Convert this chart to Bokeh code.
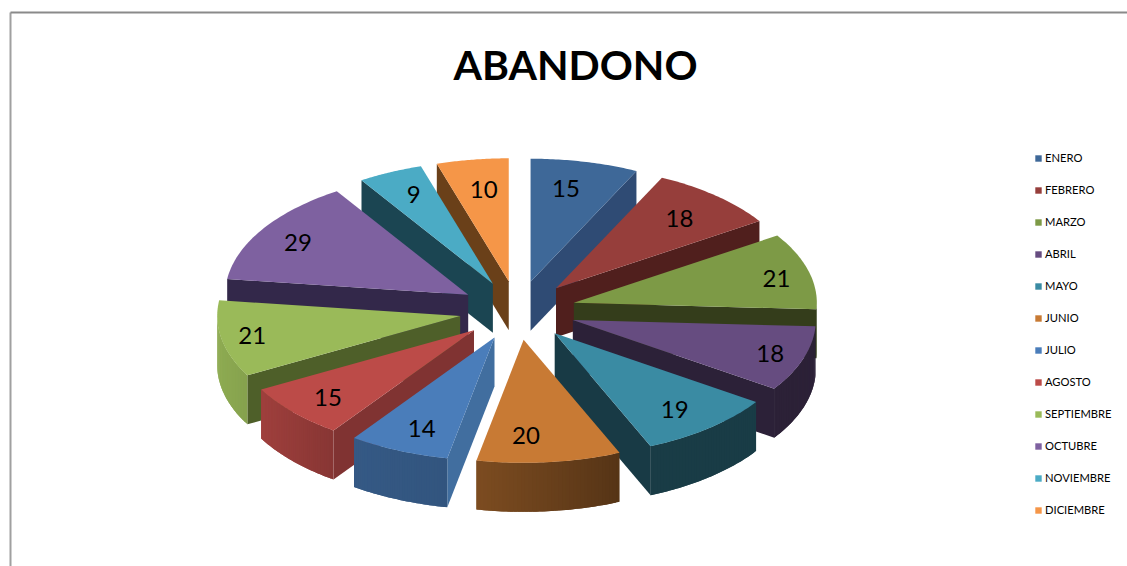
import math
import numpy as np
from bokeh.plotting import figure
from bokeh.models import Range1d, Legend, LegendItem, ColumnDataSource
from bokeh.core.properties import value
from bokeh.embed import file_html
from bokeh.resources import INLINE

months = ["ENERO", "FEBRERO", "MARZO", "ABRIL", "MAYO", "JUNIO", "JULIO",
          "AGOSTO", "SEPTIEMBRE", "OCTUBRE", "NOVIEMBRE", "DICIEMBRE"]
abandono = [15, 18, 21, 18, 19, 20, 14, 15, 21, 29, 9, 10]
top_colors = ["#3e6898", "#963e3b", "#7d9a46", "#664c80", "#3a8ba3", "#c87a34",
              "#4a7dba", "#bc4b48", "#9aba59", "#7e61a0", "#4babc5", "#f59648"]
face_colors = ["#2f4b74", "#501f1d", "#343d1b", "#2c2138", "#183a45", "#5e3a17",
               "#416e9f", "#803332", "#4e5f29", "#33284a", "#1b4552", "#6a4019"]

# geometry of the tilted pie, in page pixels
CX, CY, RX, RY, DEPTH, EXPLODE = 517, 310, 243, 123, 49, 0.24
W, H = 1127, 566
# small hand placement of the value labels
label_dx = [-8, -5, 15, 13, -4, -18, 4, -1, -17, -6, 3, 4]
label_dy = [3, 4, 1, 2, 0, -2, 0, 2, 1, 0, 0, 5]

p = figure(width=W, height=H, output_backend="svg", toolbar_location=None,
           x_range=Range1d(0, W), y_range=Range1d(H, 0),
           min_border=0, outline_line_color=None)
p.axis.visible = False
p.grid.visible = False

# chart frame
p.line([10, 10], [12, H], line_color="#a0a0a0", line_width=2)
p.line([10, W], [12, 12], line_color="#8a8a8a", line_width=2)


def mix(hex_color, f):
    r, g, b = (int(hex_color[i:i + 2], 16) for i in (1, 3, 5))
    return "#%02x%02x%02x" % (round(r * f), round(g * f), round(b * f))


total = sum(abandono)
slices = []
acc = 0.0
for i, v in enumerate(abandono):
    a0 = acc / total * 2 * math.pi
    acc += v
    a1 = acc / total * 2 * math.pi
    slices.append((i, a0, a1))

top_renderers = {}
# far slices first
for i, a0, a1 in sorted(slices, key=lambda s: -math.cos((s[1] + s[2]) / 2)):
    mid = (a0 + a1) / 2
    ax = CX + EXPLODE * RX * math.sin(mid)
    ay = CY - EXPLODE * RY * math.cos(mid)
    th = np.linspace(a0, a1, 40)
    rim_x = ax + RX * np.sin(th)
    rim_y = ay - RY * np.cos(th)
    face = face_colors[i]
    # radial faces
    for a, visible in ((a0, math.sin(a0) < -1e-6), (a1, math.sin(a1) > 1e-6)):
        if visible:
            ex, ey = ax + RX * math.sin(a), ay - RY * math.cos(a)
            p.patch([ax, ex, ex, ax], [ay, ey, ey + DEPTH, ay + DEPTH],
                    fill_color=face, line_color=None)
    # outer wall, shaded in overlapping strips so no seams show
    for k in range(len(th) - 1):
        if math.cos((th[k] + th[k + 1]) / 2) < 0:
            e = min(k + 2, len(th) - 1)
            xm = (rim_x[k] + rim_x[k + 1]) / 2
            f = float(np.interp(xm, [217, 333, 447, 478, 619, 817],
                                [0.92, 0.72, 0.68, 0.62, 0.43, 0.43]))
            c = mix(top_colors[i], f)
            xs = [*rim_x[k:e + 1], *rim_x[k:e + 1][::-1]]
            ys = [*rim_y[k:e + 1], *(rim_y[k:e + 1][::-1] + DEPTH)]
            p.patch(xs, ys, fill_color=c, line_color=None)
    # top surface
    r = p.patch([ax, *rim_x], [ay, *rim_y], fill_color=top_colors[i], line_color=None)
    top_renderers[i] = r

lx, ly = [], []
for i, a0, a1 in slices:
    mid = (a0 + a1) / 2
    lx.append(CX + (EXPLODE + 0.8) * RX * math.sin(mid) + label_dx[i])
    ly.append(CY - (EXPLODE + 0.8) * RY * math.cos(mid) + label_dy[i])

src = ColumnDataSource(dict(x=lx, y=ly, t=[str(v) for v in abandono]))
p.text("x", "y", text="t", source=src, text_font=value("Lato"), text_font_size="24px",
       text_align="center", text_baseline="middle", text_color="#000000")

p.text([575], [64], text=["ABANDONO"], text_font=value("Lato"), text_font_size="41px",
       text_font_style="bold", text_align="center", text_baseline="middle",
       text_color="#000000")

legend = Legend(items=[LegendItem(label=m, renderers=[top_renderers[i]])
                       for i, m in enumerate(months)],
                location=(1034, 50), orientation="vertical", padding=0, margin=0,
                spacing=19, label_height=12, glyph_height=8, glyph_width=8,
                label_standoff=3, label_text_font="Lato", label_text_font_size="11.2px",
                label_text_color="#000000", border_line_color=None,
                background_fill_color=None, label_text_baseline="middle")
p.add_layout(legend)

open("out.html", "w").write(file_html(p, INLINE))
